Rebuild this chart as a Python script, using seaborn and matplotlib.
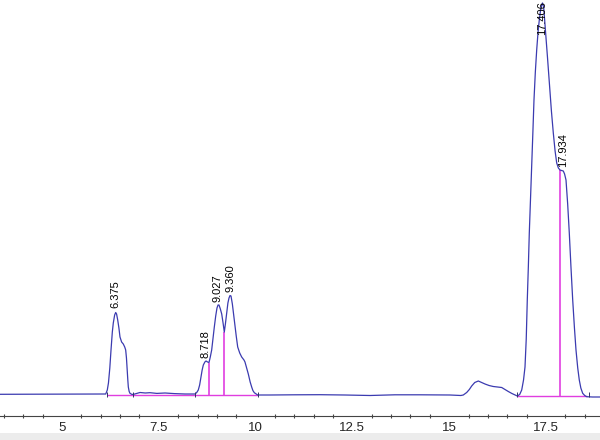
import numpy as np
import pandas as pd
import seaborn as sns
import matplotlib.pyplot as plt
from matplotlib.ticker import MultipleLocator
from matplotlib.patches import Rectangle

# ========== DATA ==========

# retention time (min)
time = [3.40, 4.17, 4.95, 5.72, 6.13, 6.17, 6.20, 6.235, 6.266, 6.30, 6.325, 6.36,
        6.387, 6.41, 6.439, 6.47, 6.498, 6.54, 6.583, 6.62, 6.645, 6.665, 6.679,
        6.70, 6.713, 6.735, 6.756, 6.80, 6.834, 7.015, 7.15, 7.273, 7.45, 7.66,
        7.90, 8.177, 8.435, 8.48, 8.52, 8.555, 8.59, 8.62, 8.65, 8.69, 8.719, 8.76,
        8.797, 8.83, 8.866, 8.90, 8.934, 8.97, 9.003, 9.03, 9.055, 9.09, 9.125,
        9.16, 9.192, 9.22, 9.254, 9.285, 9.313, 9.34, 9.365, 9.40, 9.45, 9.50,
        9.538, 9.59, 9.641, 9.70, 9.726, 9.77, 9.812, 9.86, 9.899, 9.93, 9.967,
        10.054, 10.372, 11.0, 11.663, 12.3, 12.955, 13.6, 14.246, 15.021, 15.3,
        15.364, 15.452, 15.52, 15.581, 15.66, 15.752, 15.84, 15.925, 16.03, 16.139,
        16.25, 16.356, 16.44, 16.527, 16.62, 16.70, 16.759, 16.82, 16.873, 16.92,
        16.958, 16.99, 17.017, 17.045, 17.069, 17.10, 17.131, 17.16, 17.19, 17.225,
        17.26, 17.295, 17.327, 17.36, 17.389, 17.41, 17.44, 17.47, 17.50, 17.54,
        17.586, 17.64, 17.689, 17.735, 17.777, 17.82, 17.862, 17.90, 17.947, 17.98,
        18.017, 18.06, 18.102, 18.145, 18.19, 18.235, 18.275, 18.32, 18.36, 18.40,
        18.448, 18.50, 18.551, 18.70, 18.895]

# detector signal (mAU)
signal = [-0.3, -0.2, 0.0, 0.0, 0.0, 4, 11, 26, 44, 62, 71, 79,
          81.5, 80, 74, 66, 57, 52, 50, 47, 44, 36, 27,
          14, 7, 2.5, 0.7, -0.3, -0.5, 1.5, 1.0, 1.3, 0.6, 1.0,
          0.4, 0.0, 0.0, 1.5, 4, 9, 17, 24, 29, 32, 33, 32,
          31.5, 37, 44, 56, 67, 78, 86, 89, 89, 85, 80,
          71, 62, 70, 81, 91, 96, 98.5, 98, 90, 74, 58,
          47, 41, 37, 34, 32, 26, 20, 12, 7, 3.5, 1.3,
          -1.0, -1.0, -0.8, -0.7, -1.0, -1.5, -0.8, -0.8, -1.0, -1.5,
          -1.0, 1.5, 4.5, 8, 11.5, 13, 11.5, 10, 8.5, 7.5,
          7, 6.5, 4.5, 2.5, 0.5, -1.0, -2.0, -0.5, 4, 14,
          27, 55, 94, 128, 161, 194, 227, 260, 294, 322,
          344, 362, 374, 384, 389, 391, 387, 372, 357, 336,
          311, 283, 261, 243, 231, 226, 224, 223.5, 223, 220,
          214, 190, 161, 127, 94, 66, 44, 26, 14, 6,
          0.7, -1.5, -2.7, -3.0, -3.0]

# labelled peaks: retention time, label bottom (mAU)
peak_names = ["6.375", "8.718", "9.027", "9.360", "17.406", "17.934"]
peak_times = [6.375, 8.718, 9.027, 9.360, 17.406, 17.934]
label_base = [86, 36, 92, 102, 359, 227]

# drop lines between unresolved peaks: time, top of line (mAU)
drop_times = [8.797, 9.192, 17.862]
drop_tops = [31.5, 62, 224]

# integration baselines: start, end, level
base_start = [6.17, 16.76]
base_end = [10.05, 18.57]
base_level = [-0.8, -1.7]

# peak start / end markers
mark_times = [6.15, 6.84, 8.44, 10.05, 16.76, 18.60]

df = pd.DataFrame({"time": time, "signal": signal})

# ========== PLOT ==========

sns.set_style("white")
plt.rcParams["font.family"] = ["Liberation Sans", "DejaVu Sans"]

trace_col = "#3b3bb0"
pink = "#e03ee0"

fig = plt.figure(figsize=(6, 4.4), dpi=100)
ax = fig.add_axes([0, 24 / 440, 1, 416 / 440])

# integration baselines and drop lines (under the trace)
ax.hlines(base_level, base_start, base_end, color=pink, lw=1.0, zorder=1)
for t, top in zip(drop_times, drop_tops):
    lvl = base_level[0] if t < 12 else base_level[1]
    ax.vlines(t, lvl, top, color=pink, lw=1.2, zorder=1)

sns.lineplot(data=df, x="time", y="signal", ax=ax, color=trace_col,
             lw=0.9, estimator=None, sort=False, zorder=2)

for t in mark_times:
    ax.vlines(t, -3, 2, color="#333366", lw=0.7, zorder=3)

for name, t, b in zip(peak_names, peak_times, label_base):
    ax.text(t, b, name, rotation=90, ha="center", va="bottom",
            fontsize=8, color="black", zorder=4)

ax.set_xlim(3.399, 18.895)
ax.set_ylim(-22, 394)
ax.set_xlabel("")
ax.set_ylabel("")
ax.set_yticks([])

for side in ["left", "top", "right"]:
    ax.spines[side].set_visible(False)
ax.spines["bottom"].set_color("#444444")
ax.spines["bottom"].set_linewidth(0.8)

ax.xaxis.set_major_locator(MultipleLocator(2.5))
ax.xaxis.set_minor_locator(MultipleLocator(0.5))
ax.set_xticks([5, 7.5, 10, 12.5, 15, 17.5])
ax.set_xticklabels(["5", "7.5", "10", "12.5", "15", "17.5"])
ax.tick_params(axis="x", which="major", direction="inout", length=6,
               width=0.8, color="#444444", pad=1.5, labelsize=9.5)
ax.tick_params(axis="x", which="minor", direction="inout", length=3.5,
               width=0.8, color="#444444", bottom=True)

# light grey strip along the bottom edge
fig.patches.append(Rectangle((0, 0), 1, 7 / 440, transform=fig.transFigure,
                             facecolor="#ececec", edgecolor="none"))

fig.savefig("out.png", dpi=100)
